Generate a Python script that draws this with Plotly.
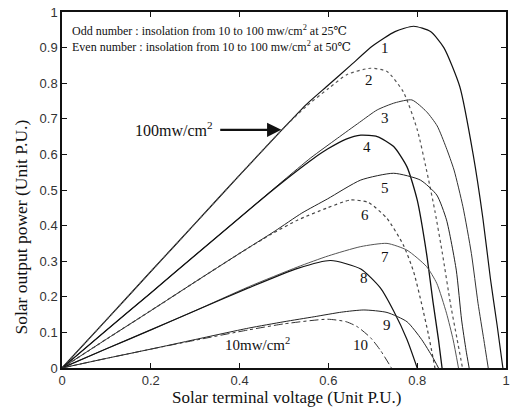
import plotly.graph_objects as go

# ---- data (voltage P.U., power P.U.) ----
x1 = [0, 0.1, 0.2, 0.3, 0.4, 0.5, 0.55, 0.6, 0.65, 0.7, 0.75, 0.792, 0.83, 0.86, 0.896, 0.926, 0.948, 0.965, 0.98, 0.993]
y1 = [0, 0.135, 0.271, 0.406, 0.542, 0.675, 0.74, 0.795, 0.85, 0.905, 0.945, 0.96, 0.945, 0.90, 0.79, 0.60, 0.42, 0.25, 0.12, 0]

x2 = [0, 0.1, 0.2, 0.3, 0.4, 0.5, 0.55, 0.6, 0.643, 0.695, 0.732, 0.769, 0.80, 0.821, 0.84, 0.857, 0.875, 0.89, 0.902]
y2 = [0, 0.135, 0.271, 0.406, 0.542, 0.675, 0.735, 0.785, 0.825, 0.842, 0.833, 0.775, 0.67, 0.556, 0.44, 0.32, 0.18, 0.08, 0]

x3 = [0, 0.1, 0.2, 0.3, 0.4, 0.5, 0.56, 0.62, 0.67, 0.71, 0.75, 0.788, 0.821, 0.845, 0.865, 0.883, 0.903, 0.922, 0.937, 0.95, 0.96]
y3 = [0, 0.106, 0.211, 0.317, 0.422, 0.528, 0.59, 0.645, 0.69, 0.725, 0.745, 0.753, 0.72, 0.68, 0.62, 0.556, 0.453, 0.322, 0.182, 0.08, 0]

x4 = [0, 0.1, 0.2, 0.3, 0.4, 0.47, 0.52, 0.568, 0.598, 0.64, 0.673, 0.71, 0.747, 0.777, 0.80, 0.821, 0.836, 0.848, 0.856]
y4 = [0, 0.106, 0.211, 0.317, 0.422, 0.495, 0.545, 0.59, 0.615, 0.643, 0.654, 0.65, 0.622, 0.565, 0.472, 0.322, 0.182, 0.079, 0]

x5 = [0, 0.1, 0.2, 0.3, 0.4, 0.48, 0.54, 0.598, 0.673, 0.747, 0.807, 0.844, 0.866, 0.888, 0.90, 0.91, 0.917]
y5 = [0, 0.081, 0.161, 0.242, 0.322, 0.385, 0.435, 0.475, 0.528, 0.547, 0.528, 0.486, 0.416, 0.275, 0.135, 0.05, 0]

x6 = [0, 0.1, 0.2, 0.3, 0.4, 0.47, 0.53, 0.598, 0.65, 0.69, 0.732, 0.769, 0.792, 0.81, 0.826, 0.84]
y6 = [0, 0.081, 0.161, 0.242, 0.322, 0.375, 0.415, 0.45, 0.472, 0.465, 0.42, 0.345, 0.27, 0.18, 0.09, 0]

x7 = [0, 0.1, 0.2, 0.3, 0.42, 0.531, 0.6, 0.673, 0.732, 0.777, 0.821, 0.844, 0.866, 0.881, 0.893]
y7 = [0, 0.054, 0.107, 0.161, 0.228, 0.284, 0.315, 0.341, 0.35, 0.331, 0.285, 0.238, 0.154, 0.079, 0]

x8 = [0, 0.1, 0.2, 0.3, 0.42, 0.531, 0.605, 0.673, 0.717, 0.747, 0.777, 0.80]
y8 = [0, 0.054, 0.107, 0.161, 0.225, 0.28, 0.302, 0.278, 0.225, 0.16, 0.08, 0]

x9 = [0, 0.1, 0.2, 0.3, 0.42, 0.5, 0.568, 0.63, 0.68, 0.732, 0.777, 0.81, 0.835, 0.848]
y9 = [0, 0.027, 0.053, 0.08, 0.112, 0.13, 0.144, 0.157, 0.163, 0.156, 0.13, 0.08, 0.03, 0]

x10 = [0, 0.1, 0.2, 0.3, 0.42, 0.5, 0.598, 0.64, 0.665, 0.695, 0.717, 0.742]
y10 = [0, 0.027, 0.053, 0.078, 0.107, 0.124, 0.137, 0.13, 0.116, 0.085, 0.05, 0]

curve_names = ["1", "2", "3", "4", "5", "6", "7", "8", "9", "10"]
curve_x = [x1, x2, x3, x4, x5, x6, x7, x8, x9, x10]
curve_y = [y1, y2, y3, y4, y5, y6, y7, y8, y9, y10]

label_x = [0.728, 0.691, 0.728, 0.6875, 0.728, 0.683, 0.728, 0.681, 0.732, 0.672]
label_y = [0.899, 0.809, 0.702, 0.621, 0.506, 0.43, 0.312, 0.253, 0.121, 0.065]

xticks = [0, 0.2, 0.4, 0.6, 0.8, 1]
xticklabels = ["0", "0.2", "0.4", "0.6", "0.8", "1"]
yticks = [0, 0.1, 0.2, 0.3, 0.4, 0.5, 0.6, 0.7, 0.8, 0.9, 1]
yticklabels = ["0", "0.1", "0.2", "0.3", "0.4", "0.5", "0.6", "0.7", "0.8", "0.9", "1"]

# ---- styles ----
styles = {
    "1": dict(color="#111", dash="solid", width=1.2),
    "2": dict(color="#555", dash="dot", width=1.2),
    "3": dict(color="#333", dash="solid", width=1.0),
    "4": dict(color="#111", dash="solid", width=1.3),
    "5": dict(color="#222", dash="solid", width=1.0),
    "6": dict(color="#444", dash="dot", width=1.2),
    "7": dict(color="#555", dash="solid", width=1.0),
    "8": dict(color="#111", dash="solid", width=1.2),
    "9": dict(color="#222", dash="solid", width=1.0),
    "10": dict(color="#333", dash="dashdot", width=1.0),
}

serif = "Times New Roman, Liberation Serif, DejaVu Serif, serif"
sans = "Arial, Liberation Sans, Helvetica, sans-serif"

fig = go.Figure()
for name, xs, ys in zip(curve_names, curve_x, curve_y):
    fig.add_trace(go.Scatter(x=xs, y=ys, mode="lines", name=name,
                             line=dict(shape="spline", smoothing=0.6, **styles[name]),
                             showlegend=False, hoverinfo="skip"))

annotations = []
for name, lx, ly in zip(curve_names, label_x, label_y):
    annotations.append(dict(x=lx, y=ly, xref="x", yref="y", text=name, showarrow=False,
                            font=dict(family=serif, size=15, color="#111")))

annotations += [
    dict(x=0.018, y=0.949, xref="x", yref="y", xanchor="left", showarrow=False,
         text="Odd number : insolation from 10 to 100 mw/cm<sup>2</sup> at 25℃",
         font=dict(family=serif, size=12, color="#111")),
    dict(x=0.018, y=0.902, xref="x", yref="y", xanchor="left", showarrow=False,
         text="Even number : insolation from 10 to 100 mw/cm<sup>2</sup> at 50℃",
         font=dict(family=serif, size=12, color="#111")),
    dict(x=0.345, y=0.672, xref="x", yref="y", xanchor="right", showarrow=False,
         text="100mw/cm<sup>2</sup>", font=dict(family=serif, size=16, color="#111")),
    dict(x=0.494, y=0.669, xref="x", yref="y", ax=0.353, ay=0.669, axref="x", ayref="y",
         text="", showarrow=True, arrowhead=2, arrowsize=1.3, arrowwidth=2.2,
         arrowcolor="#111", standoff=0),
    dict(x=0.441, y=0.068, xref="x", yref="y", showarrow=False,
         text="10mw/cm<sup>2</sup>", font=dict(family=serif, size=15, color="#111")),
    dict(x=0.505, y=-0.084, xref="paper", yref="paper", yanchor="middle", showarrow=False,
         text="Solar terminal voltage (Unit P.U.)", font=dict(family=serif, size=17, color="#111")),
    dict(x=-0.092, y=0.395, xref="paper", yref="paper", xanchor="center", yanchor="middle",
         textangle=-90, showarrow=False,
         text="Solar output power (Unit P.U.)", font=dict(family=serif, size=17.5, color="#111")),
]

axis_common = dict(range=[0, 1], showgrid=False, zeroline=False, showline=True,
                   linecolor="#111", linewidth=1.5, mirror="ticks", ticks="inside",
                   ticklen=5, tickcolor="#111", tickwidth=1,
                   tickfont=dict(family=sans, size=13, color="#333"))

fig.update_layout(
    width=512, height=408,
    margin=dict(l=62, r=2, t=12, b=40),
    paper_bgcolor="white", plot_bgcolor="white",
    xaxis=dict(tickvals=xticks, ticktext=xticklabels, **axis_common),
    yaxis=dict(tickvals=yticks, ticktext=yticklabels, **axis_common),
    annotations=annotations,
)

# remove the default 8px page margin so the figure sits at the window's top-left corner
fig.write_html("out.html", config={"displayModeBar": False},
               post_script="document.body.style.margin='0';document.body.style.overflow='hidden';")
